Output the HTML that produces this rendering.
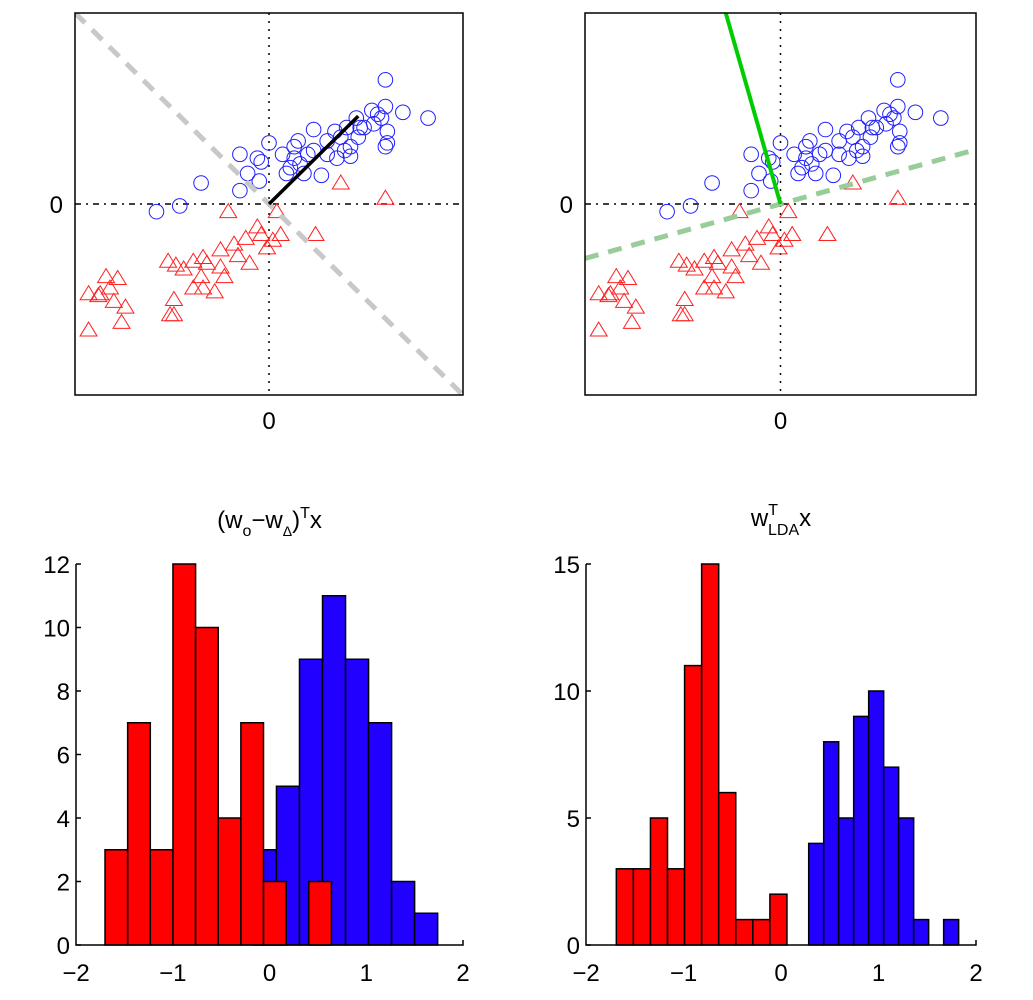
<!DOCTYPE html>
<html><head><meta charset="utf-8"><style>
body{margin:0;background:#fff;}
svg{display:block;font-family:"Liberation Sans",sans-serif;}
</style></head><body>
<svg id="fig" width="1033" height="1000" viewBox="0 0 1033 1000"></svg>
<script>
const circX=[0.60,0.82,0.69,0.60,0.53,0.58,0.61,0.60,0.61,0.45,0.47,0.40,0.34,0.23,0.15,0.00,-0.15,-0.06,-0.04,0.07,0.13,0.20,0.30,0.37,0.42,0.42,0.35,0.27,0.18,0.11,0.09,-0.11,-0.05,-0.15,-0.35,-0.46,-0.58,0.54,0.56,0.39,0.30,0.16,0.23,0.46,0.49,0.13];
const circY=[0.65,0.45,0.48,0.51,0.49,0.45,0.38,0.30,0.32,0.45,0.40,0.40,0.38,0.39,0.33,0.32,0.26,0.24,0.22,0.26,0.30,0.26,0.33,0.35,0.30,0.25,0.24,0.15,0.16,0.19,0.16,0.16,0.12,0.07,0.11,-0.01,-0.04,0.42,0.47,0.28,0.26,0.21,0.28,0.35,0.40,0.24];
const triX=[0.37,0.60,-0.21,0.04,0.24,-0.06,0.06,0.02,-0.01,-0.18,-0.12,-0.25,-0.16,-0.10,-0.34,-0.39,-0.52,-0.48,-0.44,-0.35,-0.25,-0.23,-0.34,-0.39,-0.28,-0.49,-0.49,-0.51,-0.84,-0.78,-0.93,-0.87,-0.82,-0.80,-0.74,-0.76,-0.93,-0.88,-0.32,-0.04];
const triY=[0.11,0.03,-0.04,-0.04,-0.16,-0.12,-0.16,-0.19,-0.23,-0.21,-0.18,-0.24,-0.27,-0.31,-0.28,-0.30,-0.30,-0.32,-0.34,-0.38,-0.33,-0.38,-0.44,-0.44,-0.46,-0.50,-0.58,-0.58,-0.38,-0.39,-0.47,-0.47,-0.44,-0.51,-0.54,-0.62,-0.66,-0.48,-0.31,-0.16];
const meanDiffDir=[0.46,0.46];
const ldaDir=[-0.28,1.0];
const ldaBoundarySlope=0.285;
const h1RedStart=-1.70, h1RedWidth=0.234;
const h1Red=[3,7,3,12,10,4,7,2,0,2];
const h1BlueStart=-0.166, h1BlueWidth=0.238;
const h1Blue=[3,5,9,11,9,7,2,1];
const h1YTicks=[0,2,4,6,8,10,12];
const h2RedStart=-1.689, h2RedWidth=0.175;
const h2Red=[3,3,5,3,11,15,6,1,1,2];
const h2BlueStart=0.284, h2BlueWidth=0.1538;
const h2Blue=[4,8,5,9,10,7,5,1,0,1];
const h2YTicks=[0,5,10,15];
const xTicks=[-2,-1,0,1,2];

const NS="http://www.w3.org/2000/svg";
const svg=document.getElementById('fig');
function mk(tag,attrs,parent){const e=document.createElementNS(NS,tag);for(const k in attrs)e.setAttribute(k,attrs[k]);(parent||svg).appendChild(e);return e;}

function scatter(x0,x1,y0,y1,name,variant){
  const g=mk('g',{});
  
  
  const cx=(x0+x1)/2, cy=(y0+y1)/2, hw=(x1-x0)/2, hh=(y1-y0)/2;
  const sx=v=>cx+v*hw, sy=v=>cy-v*hh;
  const cp=mk('clipPath',{id:'clip'+variant},g);
  mk('rect',{x:x0,y:y0,width:x1-x0,height:y1-y0},cp);
  const inner=mk('g',{'clip-path':'url(#clip'+variant+')'},g);
  const vax=mk('line',{x1:sx(0),y1:y0,x2:sx(0),y2:y1,stroke:'#000','stroke-width':1.5,'stroke-dasharray':'2 6'},inner);
  
  
  const hax=mk('line',{x1:x0,y1:sy(0),x2:x1,y2:sy(0),stroke:'#000','stroke-width':1.5,'stroke-dasharray':'6 5 2 5'},inner);
  
  
  for(let i=0;i<circX.length;i++){
    const c=mk('circle',{cx:sx(circX[i]),cy:sy(circY[i]),r:7.3,fill:'none',stroke:'#2020ff','stroke-width':1},inner);
    
    
  }
  for(let i=0;i<triX.length;i++){
    const px=sx(triX[i]),py=sy(triY[i]);
    const t=mk('polygon',{points:`${px},${py-8} ${px-8.5},${py+6} ${px+8.5},${py+6}`,fill:'none',stroke:'#ff2020','stroke-width':1},inner);
    
    
  }
  if(variant==='a'){
    const d=mk('line',{x1:sx(-1),y1:sy(1),x2:sx(1),y2:sy(-1),stroke:'#c8c8c8','stroke-width':5,'stroke-dasharray':'14 10'},inner);
    
    
    const w=mk('line',{x1:sx(0),y1:sy(0),x2:sx(meanDiffDir[0]),y2:sy(meanDiffDir[1]),stroke:'#000','stroke-width':3.5},inner);
    
    
  } else {
    const d=mk('line',{x1:sx(-1),y1:sy(-ldaBoundarySlope),x2:sx(1),y2:sy(ldaBoundarySlope),stroke:'#98cc98','stroke-width':5,'stroke-dasharray':'14 10'},inner);
    
    
    const w=mk('line',{x1:sx(0),y1:sy(0),x2:sx(ldaDir[0]),y2:sy(ldaDir[1]),stroke:'#00cc00','stroke-width':4},inner);
    
    
  }
  const box=mk('rect',{x:x0,y:y0,width:x1-x0,height:y1-y0,fill:'none',stroke:'#000','stroke-width':1.5},g);
  
  
  const yl=mk('text',{x:x0-12,y:sy(0)+9,'font-size':24,'text-anchor':'end'},g);yl.textContent='0';
  
  
  const xl=mk('text',{x:sx(0),y:y1+34,'font-size':24,'text-anchor':'middle'},g);xl.textContent='0';
  
  
}
scatter(75,463,13,395,'scatter-mean-difference','a');
scatter(585,976,13,395,'scatter-lda','b');

function hist(x0,x1,y0,yTop,ymax,redStart,redW,red,blueStart,blueW,blue,yTicks,name,titleFn){
  const g=mk('g',{});
  
  
  const sx=v=>x0+(v+2)/4*(x1-x0);
  const sy=v=>y0-v/ymax*(y0-yTop);
  for(let i=0;i<blue.length;i++){ if(!blue[i])continue;
    const a=sx(blueStart+i*blueW),b=sx(blueStart+(i+1)*blueW);
    const r=mk('rect',{x:a,y:sy(blue[i]),width:b-a,height:sy(0)-sy(blue[i]),fill:'#2200ff',stroke:'#000','stroke-width':1.5},g);
    
    
  }
  for(let i=0;i<red.length;i++){ if(!red[i])continue;
    const a=sx(redStart+i*redW),b=sx(redStart+(i+1)*redW);
    const r=mk('rect',{x:a,y:sy(red[i]),width:b-a,height:sy(0)-sy(red[i]),fill:'#ff0000',stroke:'#000','stroke-width':1.5},g);
    
    
  }
  const ax=mk('path',{d:`M${x0},${yTop} L${x0},${y0} L${x1},${y0} L${x1},${y0-5}`,fill:'none',stroke:'#000','stroke-width':1.5},g);
  
  
  yTicks.forEach(v=>{
    mk('line',{x1:x0,y1:sy(v),x2:x0+5,y2:sy(v),stroke:'#000','stroke-width':1.5},g);
    const t=mk('text',{x:x0-6,y:sy(v)+9,'font-size':24,'text-anchor':'end'},g);t.textContent=v;
    
    
  });
  xTicks.forEach(v=>{
    const t=mk('text',{x:sx(v),y:y0+36,'font-size':24,'text-anchor':'middle'},g);t.textContent=(v<0?'\u2212'+(-v):v);
    
    
  });
  titleFn(g,(x0+x1)/2);
}
hist(76,463,945,564,12,h1RedStart,h1RedWidth,h1Red,h1BlueStart,h1BlueWidth,h1Blue,h1YTicks,'histogram-mean-difference',(g,c)=>{
  const t=mk('text',{x:c,y:528,'font-size':24,'text-anchor':'middle'},g);
  
  
  t.innerHTML='(w<tspan font-size="16" dy="8">o</tspan><tspan dy="-8">\u2212w</tspan><tspan font-size="14" dy="8">\u0394</tspan><tspan dy="-8">)</tspan><tspan font-size="16" dy="-10">T</tspan><tspan dy="10">x</tspan>';
});
hist(586,976,945,564,15,h2RedStart,h2RedWidth,h2Red,h2BlueStart,h2BlueWidth,h2Blue,h2YTicks,'histogram-lda',(g,c)=>{
  const t=mk('text',{x:c,y:526,'font-size':24,'text-anchor':'middle'},g);
  
  
  t.innerHTML='w<tspan font-size="16" dy="-11">T</tspan><tspan font-size="16" dx="-10" dy="20">LDA</tspan><tspan dy="-9">x</tspan>';
});
</script>
</body></html>
